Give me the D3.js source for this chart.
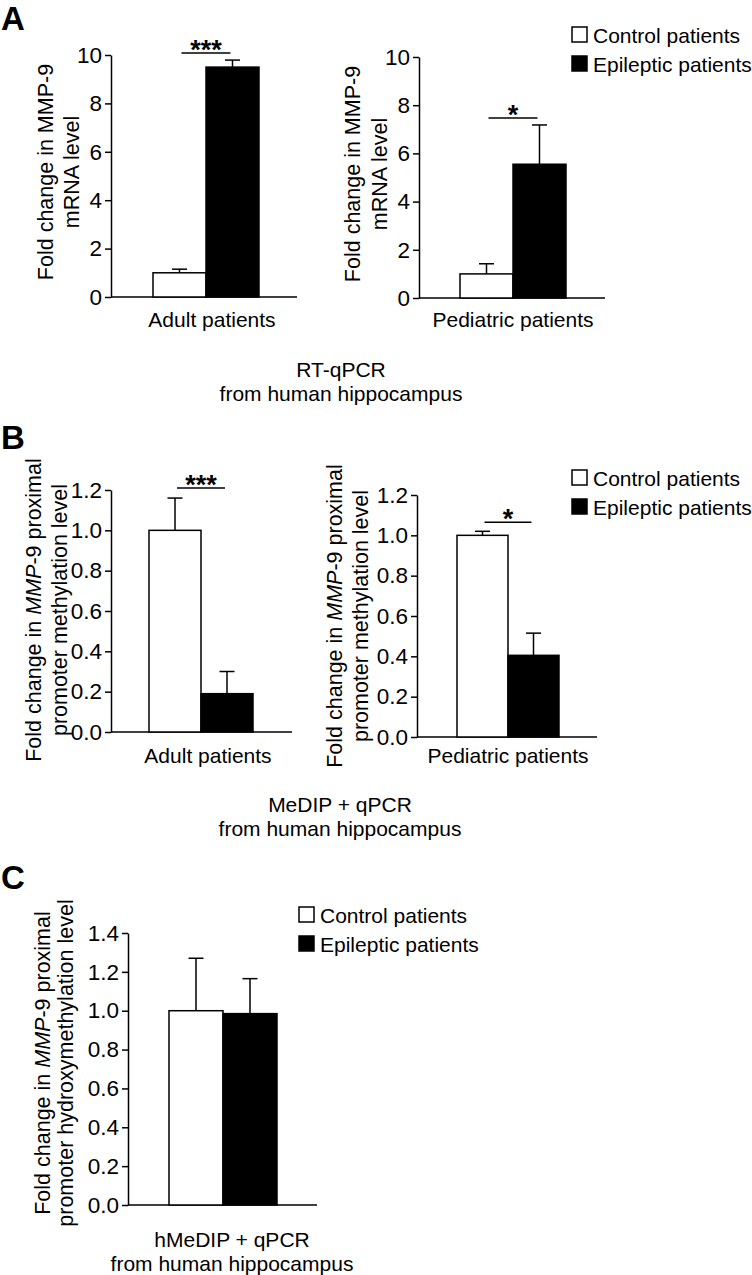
<!DOCTYPE html>
<html>
<head>
<meta charset="utf-8">
<script src="https://cdn.jsdelivr.net/npm/d3@7"></script>
<style>
  body { margin: 0; background: #fff; }
  svg { display: block; font-family: "Liberation Sans", Arial, sans-serif; }
</style>
</head>
<body>
<svg id="chart" width="752" height="1275"></svg>
<script>
// groups shared by all panels
const groups = ["Control patients", "Epileptic patients"]

// A: RT-qPCR, MMP-9 mRNA
const mrnaAdult = [1.0, 9.5]
const mrnaAdultErr = [0.15, 0.29]
const mrnaPediatric = [1.0, 5.55]
const mrnaPediatricErr = [0.42, 1.63]
const mrnaTicks = [0, 2, 4, 6, 8, 10]

// B: MeDIP + qPCR, promoter methylation
const methAdult = [1.0, 0.19]
const methAdultErr = [0.16, 0.11]
const methPediatric = [1.0, 0.405]
const methPediatricErr = [0.02, 0.11]
const methTicks = [0, 0.2, 0.4, 0.6, 0.8, 1.0, 1.2]

// C: hMeDIP + qPCR, promoter hydroxymethylation
const hydroxy = [1.0, 0.985]
const hydroxyErr = [0.27, 0.18]
const hydroxyTicks = [0, 0.2, 0.4, 0.6, 0.8, 1.0, 1.2, 1.4]

const fills = ["#fff", "#000"]
const fontSize = 21

const svg = d3.select("#chart")

const drawPanel = p => {
  const g = svg.append("g")

  const y = d3.scaleLinear()
    .domain([0, d3.max(p.ticks)])
    .range([p.y0, p.yTop])

  const x = d3.scaleBand()
    .domain(groups)
    .range([p.barL, p.barR])
    .paddingInner(0)

  const yAxis = d3.axisLeft(y)
    .tickValues(p.ticks)
    .tickFormat(p.fmt)
    .tickSize(6)
    .tickSizeOuter(0)
    .tickPadding(3)

  const ax = g.append("g")
    .attr("transform", `translate(${p.axisX},0)`)
    .call(yAxis)
  ax.select(".domain").attr("stroke-width", 1.5)
  ax.selectAll(".tick line").attr("stroke-width", 1.5)
  ax.selectAll("text")
    .attr("font-size", 22.5)
    .attr("font-family", "Liberation Sans, Arial, sans-serif")
    .attr("fill", "#000")

  // baseline
  g.append("line")
    .attr("x1", p.axisX).attr("x2", p.xEnd)
    .attr("y1", p.y0).attr("y2", p.y0)
    .attr("stroke", "#000").attr("stroke-width", 1.5)

  const rows = groups.map((k, i) => ({ k, v: p.values[i], e: p.errors[i], fill: fills[i] }))

  // error bars (upper only)
  const cap = 7.5
  rows.forEach(d => {
    const cx = x(d.k) + x.bandwidth() / 2
    g.append("line")
      .attr("x1", cx).attr("x2", cx)
      .attr("y1", y(d.v)).attr("y2", y(d.v + d.e))
      .attr("stroke", "#000").attr("stroke-width", 1.5)
    g.append("line")
      .attr("x1", cx - cap).attr("x2", cx + cap)
      .attr("y1", y(d.v + d.e)).attr("y2", y(d.v + d.e))
      .attr("stroke", "#000").attr("stroke-width", 1.5)
  })

  g.selectAll("rect.bar")
    .data(rows)
    .enter()
    .append("rect")
    .attr("class", "bar")
    .attr("x", d => x(d.k))
    .attr("width", x.bandwidth())
    .attr("y", d => y(d.v))
    .attr("height", d => y(0) - y(d.v))
    .attr("fill", d => d.fill)
    .attr("stroke", "#000")
    .attr("stroke-width", 1.5)

  // significance
  if (p.sig) {
    const top = d3.max(rows, d => d.v + d.e)
    const ly = y(top) - p.sigGap
    const c0 = x(groups[0]) + x.bandwidth() / 2 + 2
    const c1 = x(groups[1]) + x.bandwidth() / 2 - 2
    g.append("line")
      .attr("x1", c0).attr("x2", c1)
      .attr("y1", ly).attr("y2", ly)
      .attr("stroke", "#000").attr("stroke-width", 1.5)
    g.append("text")
      .attr("x", (c0 + c1) / 2)
      .attr("y", ly + 6)
      .attr("text-anchor", "middle")
      .attr("font-size", 27)
      .attr("font-weight", "bold")
      .text(p.sig)
  }

  // y label, two lines, rotated
  p.yLabel.forEach((line, i) => {
    const t = g.append("text")
      .attr("transform", `translate(${p.labelX[i]},${p.labelY}) rotate(-90)`)
      .attr("text-anchor", "middle")
      .attr("font-size", 21.5)
    line.forEach(part => {
      t.append("tspan")
        .attr("font-style", part.italic ? "italic" : "normal")
        .text(part.t)
    })
  })

  if (p.category) {
    g.append("text")
      .attr("x", p.category[1])
      .attr("y", p.category[2])
      .attr("text-anchor", "middle")
      .attr("font-size", fontSize)
      .text(p.category[0])
  }
}

const mrnaLabel = [[{ t: "Fold change in MMP-9" }], [{ t: "mRNA level" }]]
const methLabel = [
  [{ t: "Fold change in " }, { t: "MMP", italic: true }, { t: "-9 proximal" }],
  [{ t: "promoter methylation level" }]
]
const hydroxyLabel = [
  [{ t: "Fold change in " }, { t: "MMP", italic: true }, { t: "-9 proximal" }],
  [{ t: "promoter hydroxymethylation level" }]
]

drawPanel({
  values: mrnaAdult, errors: mrnaAdultErr, ticks: mrnaTicks, fmt: d3.format("d"),
  axisX: 111, xEnd: 297, y0: 297, yTop: 55, barL: 153, barR: 259,
  sig: "***", sigGap: 7, yLabel: mrnaLabel, labelX: [53, 79], labelY: 172,
  category: ["Adult patients", 212, 327]
})
drawPanel({
  values: mrnaPediatric, errors: mrnaPediatricErr, ticks: mrnaTicks, fmt: d3.format("d"),
  axisX: 419, xEnd: 605, y0: 298, yTop: 57, barL: 460, barR: 566,
  sig: "*", sigGap: 7, yLabel: mrnaLabel, labelX: [360, 387], labelY: 174,
  category: ["Pediatric patients", 513, 327]
})
drawPanel({
  values: methAdult, errors: methAdultErr, ticks: methTicks, fmt: d3.format(".1f"),
  axisX: 111, xEnd: 292, y0: 732, yTop: 490, barL: 149, barR: 253,
  sig: "***", sigGap: 10, yLabel: methLabel, labelX: [41, 67], labelY: 610,
  category: ["Adult patients", 208, 763]
})
drawPanel({
  values: methPediatric, errors: methPediatricErr, ticks: methTicks, fmt: d3.format(".1f"),
  axisX: 417, xEnd: 597, y0: 737, yTop: 495, barL: 457, barR: 559,
  sig: "*", sigGap: 9, yLabel: methLabel, labelX: [342, 368], labelY: 616,
  category: ["Pediatric patients", 508, 763]
})
drawPanel({
  values: hydroxy, errors: hydroxyErr, ticks: hydroxyTicks, fmt: d3.format(".1f"),
  axisX: 128, xEnd: 317, y0: 1205, yTop: 933, barL: 169, barR: 277,
  sig: null, yLabel: hydroxyLabel, labelX: [50, 73], labelY: 1063,
  category: null
})

// legends
const legend = (lx, ly) => {
  const lg = svg.append("g").attr("transform", `translate(${lx},${ly})`)
  groups.forEach((k, i) => {
    lg.append("rect")
      .attr("x", 0).attr("y", i * 29)
      .attr("width", 15).attr("height", 15)
      .attr("fill", fills[i]).attr("stroke", "#000").attr("stroke-width", 1.5)
    lg.append("text")
      .attr("x", 21).attr("y", i * 29 + 16)
      .attr("font-size", fontSize)
      .text(k)
  })
}
legend(572, 27)
legend(572, 470)
legend(299, 907)

// method captions
const caption = (cx, y1, lines) => {
  lines.forEach((s, i) => {
    svg.append("text")
      .attr("x", cx).attr("y", y1 + i * 23.5)
      .attr("text-anchor", "middle")
      .attr("font-size", fontSize)
      .text(s)
  })
}
caption(341, 377, ["RT-qPCR", "from human hippocampus"])
caption(340, 812, ["MeDIP + qPCR", "from human hippocampus"])
caption(232, 1247, ["hMeDIP + qPCR", "from human hippocampus"])

// panel letters
const letter = (s, y) => svg.append("text")
  .attr("x", 1).attr("y", y)
  .attr("font-size", 33).attr("font-weight", "bold")
  .text(s)
letter("A", 30)
letter("B", 449)
letter("C", 889)
</script>
</body>
</html>
